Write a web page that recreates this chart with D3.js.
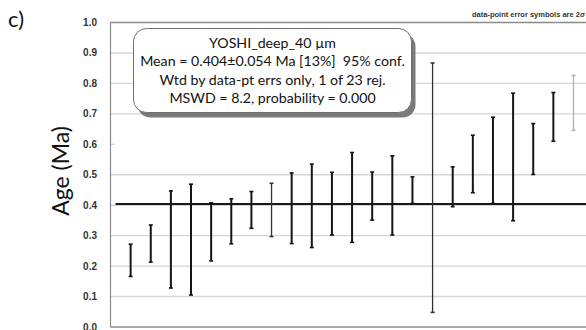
<!DOCTYPE html>
<html>
<head>
<meta charset="utf-8">
<script src="https://cdn.jsdelivr.net/npm/d3@7"></script>
<style>
  body { margin: 0; background: #fff; }
  svg { display: block; }
</style>
</head>
<body>
<svg id="chart"></svg>
<script>
// spot numbers, lower / upper ends of the 2 sigma error bars (Ma)
var spots = d3.range(1, 24);
var lowerAge = [0.166, 0.213, 0.128, 0.105, 0.217, 0.273, 0.324, 0.297, 0.274, 0.261, 0.302, 0.278,
                0.351, 0.302, 0.406, 0.048, 0.395, 0.441, 0.406, 0.349, 0.501, 0.610, 0.646];
var upperAge = [0.272, 0.335, 0.447, 0.469, 0.408, 0.421, 0.445, 0.472, 0.506, 0.535, 0.508, 0.573,
                0.509, 0.562, 0.493, 0.867, 0.526, 0.630, 0.689, 0.768, 0.668, 0.770, 0.826];
var rejectedSpots = [23];
var meanAge = 0.404;
var yTicks = [0.0, 0.1, 0.2, 0.3, 0.4, 0.5, 0.6, 0.7, 0.8, 0.9, 1.0];
var boxLines = [
  'YOSHI_deep_40 \u00b5m',
  'Mean = 0.404\u00b10.054 Ma [13%]  95% conf.',
  'Wtd by data-pt errs only, 1 of 23 rej.',
  'MSWD = 8.2, probability = 0.000'
];

var width = 586;
var height = 330;
var plotLeft = 110.5, plotTop = 22.5, plotBottom = 327;

var svg = d3.select('#chart')
    .attr('width', width)
    .attr('height', height);

var x = d3.scaleLinear().domain([0, 24]).range([plotLeft, plotLeft + 24 * 20.13]);
var y = d3.scaleLinear().domain([0, 1]).range([plotBottom, plotTop]);

//gridlines (the 0.6 one only shows as a short stub)
svg.append('g')
  .selectAll('line')
  .data(yTicks.filter(d => d > 0 && d < 1))
  .enter()
  .append('line')
    .attr('x1', plotLeft)
    .attr('x2', d => Math.abs(d - 0.6) < 1e-9 ? plotLeft + 4 : width)
    .attr('y1', d => y(d))
    .attr('y2', d => y(d))
    .attr('stroke', '#d6d6d6')
    .attr('stroke-width', 1.4);

//frame
svg.append('line')
    .attr('x1', plotLeft).attr('x2', width)
    .attr('y1', y(1)).attr('y2', y(1))
    .attr('stroke', '#8a8a8a').attr('stroke-width', 1.5);
svg.append('line')
    .attr('x1', plotLeft).attr('x2', width)
    .attr('y1', plotBottom).attr('y2', plotBottom)
    .attr('stroke', '#8a8a8a').attr('stroke-width', 1.5);
svg.append('line')
    .attr('x1', plotLeft).attr('x2', plotLeft)
    .attr('y1', y(1)).attr('y2', plotBottom)
    .attr('stroke', '#8a8a8a').attr('stroke-width', 1.2);

//tick labels
svg.append('g')
  .selectAll('text')
  .data(yTicks)
  .enter()
  .append('text')
    .attr('x', 97)
    .attr('y', d => y(d) + 3.5)
    .attr('text-anchor', 'end')
    .attr('font-family', 'Liberation Sans, Arial, sans-serif')
    .attr('font-weight', 'bold')
    .attr('font-size', 10)
    .attr('fill', '#333')
    .text(d => d.toFixed(1));

//mean line
svg.append('line')
    .attr('x1', plotLeft + 5).attr('x2', width)
    .attr('y1', y(meanAge)).attr('y2', y(meanAge))
    .attr('stroke', '#1a1a1a').attr('stroke-width', 2);

//error bars
var thinSpots = [8, 16];
var bars = svg.append('g')
  .selectAll('g')
  .data(spots.map((s, i) => ({spot: s, lo: lowerAge[i], hi: upperAge[i]})))
  .enter()
  .append('g')
    .attr('stroke', d => rejectedSpots.indexOf(d.spot) > -1 ? '#b0b0b0' : (thinSpots.indexOf(d.spot) > -1 ? '#333' : '#151515'));

bars.append('line')
    .attr('x1', d => x(d.spot)).attr('x2', d => x(d.spot))
    .attr('y1', d => y(d.hi)).attr('y2', d => y(d.lo))
    .attr('stroke-width', d => thinSpots.indexOf(d.spot) > -1 || rejectedSpots.indexOf(d.spot) > -1 ? 1.3 : 2);
bars.selectAll('.cap')
  .data(d => [d.lo, d.hi].map(v => ({spot: d.spot, v: v})))
  .enter()
  .append('line')
    .classed('cap', true)
    .attr('x1', d => x(d.spot) - 2).attr('x2', d => x(d.spot) + 2)
    .attr('y1', d => y(d.v)).attr('y2', d => y(d.v))
    .attr('stroke-width', 1.6);

//info box with shadow
var bx = 133.5, by = 28.5, bw = 278, bh = 84;
svg.append('rect')
    .attr('x', bx + 4).attr('y', by + 5)
    .attr('width', bw).attr('height', bh)
    .attr('rx', 13)
    .attr('fill', '#7a7a7a');
svg.append('rect')
    .attr('x', bx).attr('y', by)
    .attr('width', bw).attr('height', bh)
    .attr('rx', 13)
    .attr('fill', '#fff')
    .attr('stroke', '#6e6e6e')
    .attr('stroke-width', 1);
svg.append('g')
  .selectAll('text')
  .data(boxLines)
  .enter()
  .append('text')
    .attr('x', bx + bw / 2)
    .attr('y', (d, i) => 48 + i * 18.4)
    .attr('text-anchor', 'middle')
    .attr('font-family', 'Lato, sans-serif')
    .attr('font-size', 14.2)
    .attr('fill', '#111')
    .style('white-space', 'pre')
    .text(d => d);

//labels
svg.append('text')
    .attr('x', 8).attr('y', 27)
    .attr('font-family', 'Lato, sans-serif')
    .attr('font-size', 22)
    .attr('fill', '#111')
    .text('c)');
svg.append('text')
    .attr('transform', 'translate(69, 171) rotate(-90)')
    .attr('text-anchor', 'middle')
    .attr('font-family', 'Lato, sans-serif')
    .attr('font-size', 23)
    .attr('fill', '#111')
    .text('Age (Ma)');
svg.append('text')
    .attr('x', 472).attr('y', 17)
    .attr('font-family', 'Liberation Sans, Arial, sans-serif')
    .attr('font-size', 7.5)
    .attr('font-weight', 'bold')
    .attr('fill', '#333')
    .text('data-point error symbols are 2\u03c3');
</script>
</body>
</html>
